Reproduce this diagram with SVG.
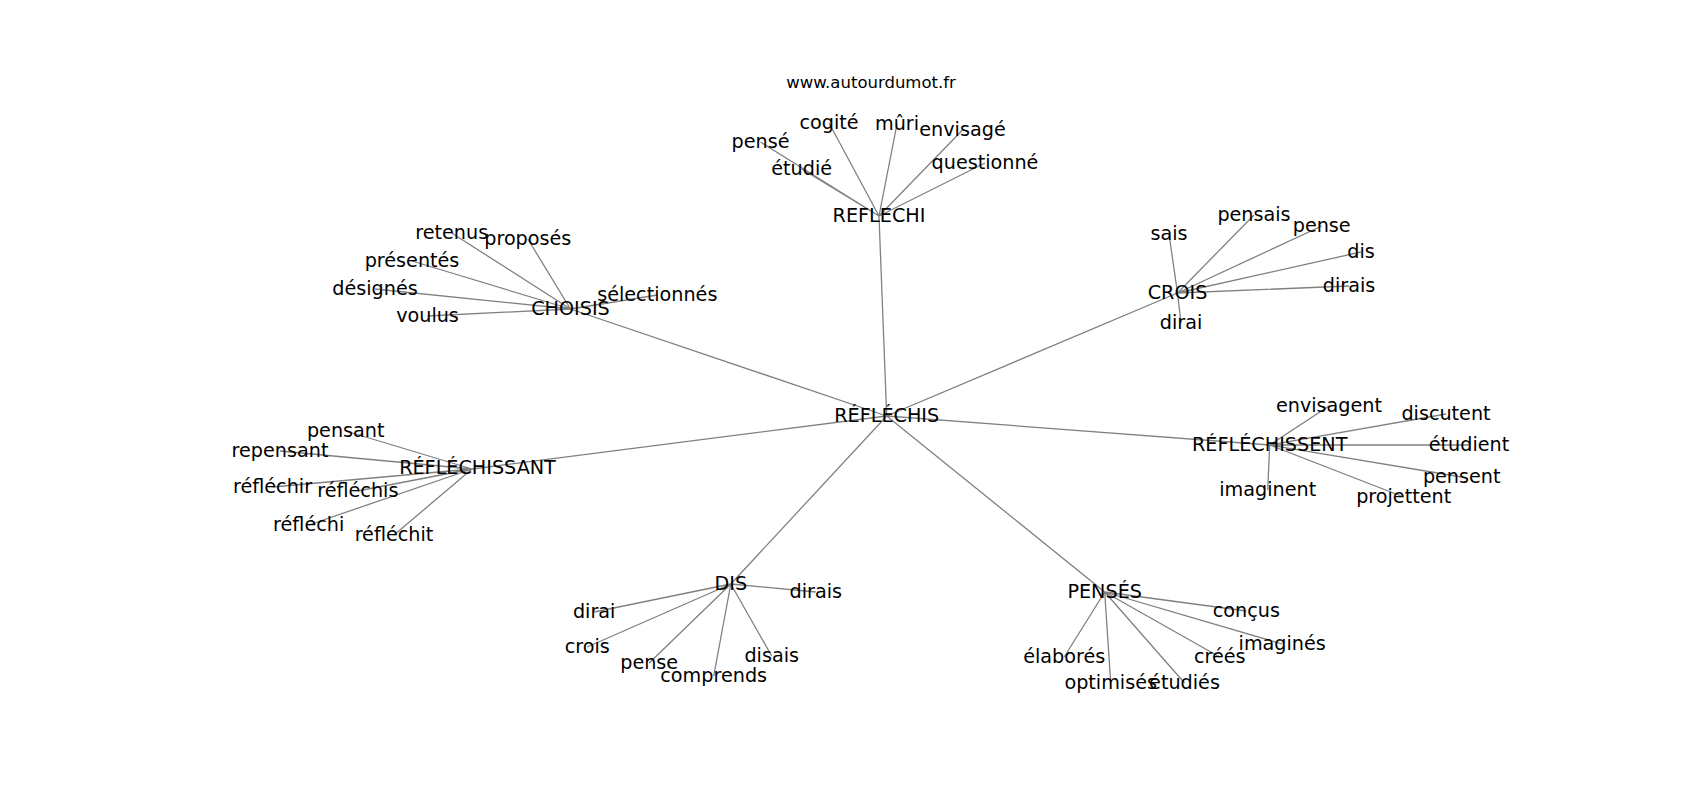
<svg xmlns="http://www.w3.org/2000/svg" width="1700" height="800" viewBox="0 0 1700 800">
<style>
.e{stroke:#808080;stroke-width:1.3;fill:none}
.t{font-family:"DejaVu Sans",sans-serif;font-size:19.2px;fill:#000;text-anchor:middle}
.title{font-family:"DejaVu Sans",sans-serif;font-size:16.5px;fill:#000;text-anchor:middle}
</style>
<rect width="1700" height="800" fill="#fff"/>
<text class="title" x="871" y="88">www.autourdumot.fr</text>
<g id="edges">
<path class="e" d="M886.7,416L879,216M886.7,416L570.5,309M886.7,416L1177.5,293M886.7,416L472,469M886.7,416L1269.7,445M886.7,416L730.8,584M886.7,416L1104.7,592"/>
<path class="e" d="M879,216L760.5,142M879,216L801.7,169M879,216L829,123M879,216L897,124M879,216L962.5,130M879,216L985,163"/>
<path class="e" d="M570.5,309L451.7,233M570.5,309L527.8,239M570.5,309L412,261M570.5,309L375,289M570.5,309L657.3,295M570.5,309L427.5,316"/>
<path class="e" d="M1177.5,293L1254,215M1177.5,293L1321.7,226M1177.5,293L1169,234M1177.5,293L1361,252M1177.5,293L1349,286M1177.5,293L1181,323"/>
<path class="e" d="M472,469L345.7,431M472,469L280,451M472,469L272.5,487M472,469L357.8,491M472,469L308.7,525M472,469L394,535"/>
<path class="e" d="M1269.7,445L1329,406M1269.7,445L1446,414M1269.7,445L1469,445M1269.7,445L1461.7,477M1269.7,445L1267.7,490M1269.7,445L1403.7,497"/>
<path class="e" d="M730.8,584L815.8,592M730.8,584L594.2,612M730.8,584L587.2,647M730.8,584L649.2,663M730.8,584L771.7,656M730.8,584L713.7,676"/>
<path class="e" d="M1104.7,592L1246.3,611M1104.7,592L1282.2,644M1104.7,592L1064.2,657M1104.7,592L1219.7,657M1104.7,592L1110.7,683M1104.7,592L1184.5,683"/>
</g>
<g id="n-reflechis"><text class="t" x="886.7" y="422">RÉFLÉCHIS</text></g>
<g id="n-reflechi"><text class="t" x="879" y="222">REFLECHI</text></g>
<g id="n-pense1"><text class="t" x="760.5" y="148">pensé</text></g>
<g id="n-etudie"><text class="t" x="801.7" y="175">étudié</text></g>
<g id="n-cogite"><text class="t" x="829" y="129">cogité</text></g>
<g id="n-muri"><text class="t" x="897" y="130">mûri</text></g>
<g id="n-envisage"><text class="t" x="962.5" y="136">envisagé</text></g>
<g id="n-questionne"><text class="t" x="985" y="169">questionné</text></g>
<g id="n-choisis"><text class="t" x="570.5" y="315">CHOISIS</text></g>
<g id="n-retenus"><text class="t" x="451.7" y="239">retenus</text></g>
<g id="n-proposes"><text class="t" x="527.8" y="245">proposés</text></g>
<g id="n-presentes"><text class="t" x="412" y="267">présentés</text></g>
<g id="n-designes"><text class="t" x="375" y="295">désignés</text></g>
<g id="n-selectionnes"><text class="t" x="657.3" y="301">sélectionnés</text></g>
<g id="n-voulus"><text class="t" x="427.5" y="322">voulus</text></g>
<g id="n-crois"><text class="t" x="1177.5" y="299">CROIS</text></g>
<g id="n-pensais"><text class="t" x="1254" y="221">pensais</text></g>
<g id="n-pense2"><text class="t" x="1321.7" y="232">pense</text></g>
<g id="n-sais"><text class="t" x="1169" y="240">sais</text></g>
<g id="n-dis1"><text class="t" x="1361" y="258">dis</text></g>
<g id="n-dirais1"><text class="t" x="1349" y="292">dirais</text></g>
<g id="n-dirai1"><text class="t" x="1181" y="329">dirai</text></g>
<g id="n-reflechissant"><text class="t" x="477.5" y="474">RÉFLÉCHISSANT</text></g>
<g id="n-pensant"><text class="t" x="345.7" y="437">pensant</text></g>
<g id="n-repensant"><text class="t" x="280" y="457">repensant</text></g>
<g id="n-reflechir"><text class="t" x="272.5" y="493">réfléchir</text></g>
<g id="n-reflechis2"><text class="t" x="357.8" y="497">réfléchis</text></g>
<g id="n-reflechi2"><text class="t" x="308.7" y="531">réfléchi</text></g>
<g id="n-reflechit"><text class="t" x="394" y="541">réfléchit</text></g>
<g id="n-reflechissent"><text class="t" x="1269.7" y="451">RÉFLÉCHISSENT</text></g>
<g id="n-envisagent"><text class="t" x="1329" y="412">envisagent</text></g>
<g id="n-discutent"><text class="t" x="1446" y="420">discutent</text></g>
<g id="n-etudient"><text class="t" x="1469" y="451">étudient</text></g>
<g id="n-pensent"><text class="t" x="1461.7" y="483">pensent</text></g>
<g id="n-imaginent"><text class="t" x="1267.7" y="496">imaginent</text></g>
<g id="n-projettent"><text class="t" x="1403.7" y="503">projettent</text></g>
<g id="n-dis"><text class="t" x="730.8" y="590">DIS</text></g>
<g id="n-dirais2"><text class="t" x="815.8" y="598">dirais</text></g>
<g id="n-dirai2"><text class="t" x="594.2" y="618">dirai</text></g>
<g id="n-crois2"><text class="t" x="587.2" y="653">crois</text></g>
<g id="n-pense3"><text class="t" x="649.2" y="669">pense</text></g>
<g id="n-disais"><text class="t" x="771.7" y="662">disais</text></g>
<g id="n-comprends"><text class="t" x="713.7" y="682">comprends</text></g>
<g id="n-penses"><text class="t" x="1104.7" y="598">PENSÉS</text></g>
<g id="n-concus"><text class="t" x="1246.3" y="617">conçus</text></g>
<g id="n-imagines"><text class="t" x="1282.2" y="650">imaginés</text></g>
<g id="n-elabores"><text class="t" x="1064.2" y="663">élaborés</text></g>
<g id="n-crees"><text class="t" x="1219.7" y="663">créés</text></g>
<g id="n-optimises"><text class="t" x="1110.7" y="689">optimisés</text></g>
<g id="n-etudies"><text class="t" x="1184.5" y="689">étudiés</text></g>
</svg>
